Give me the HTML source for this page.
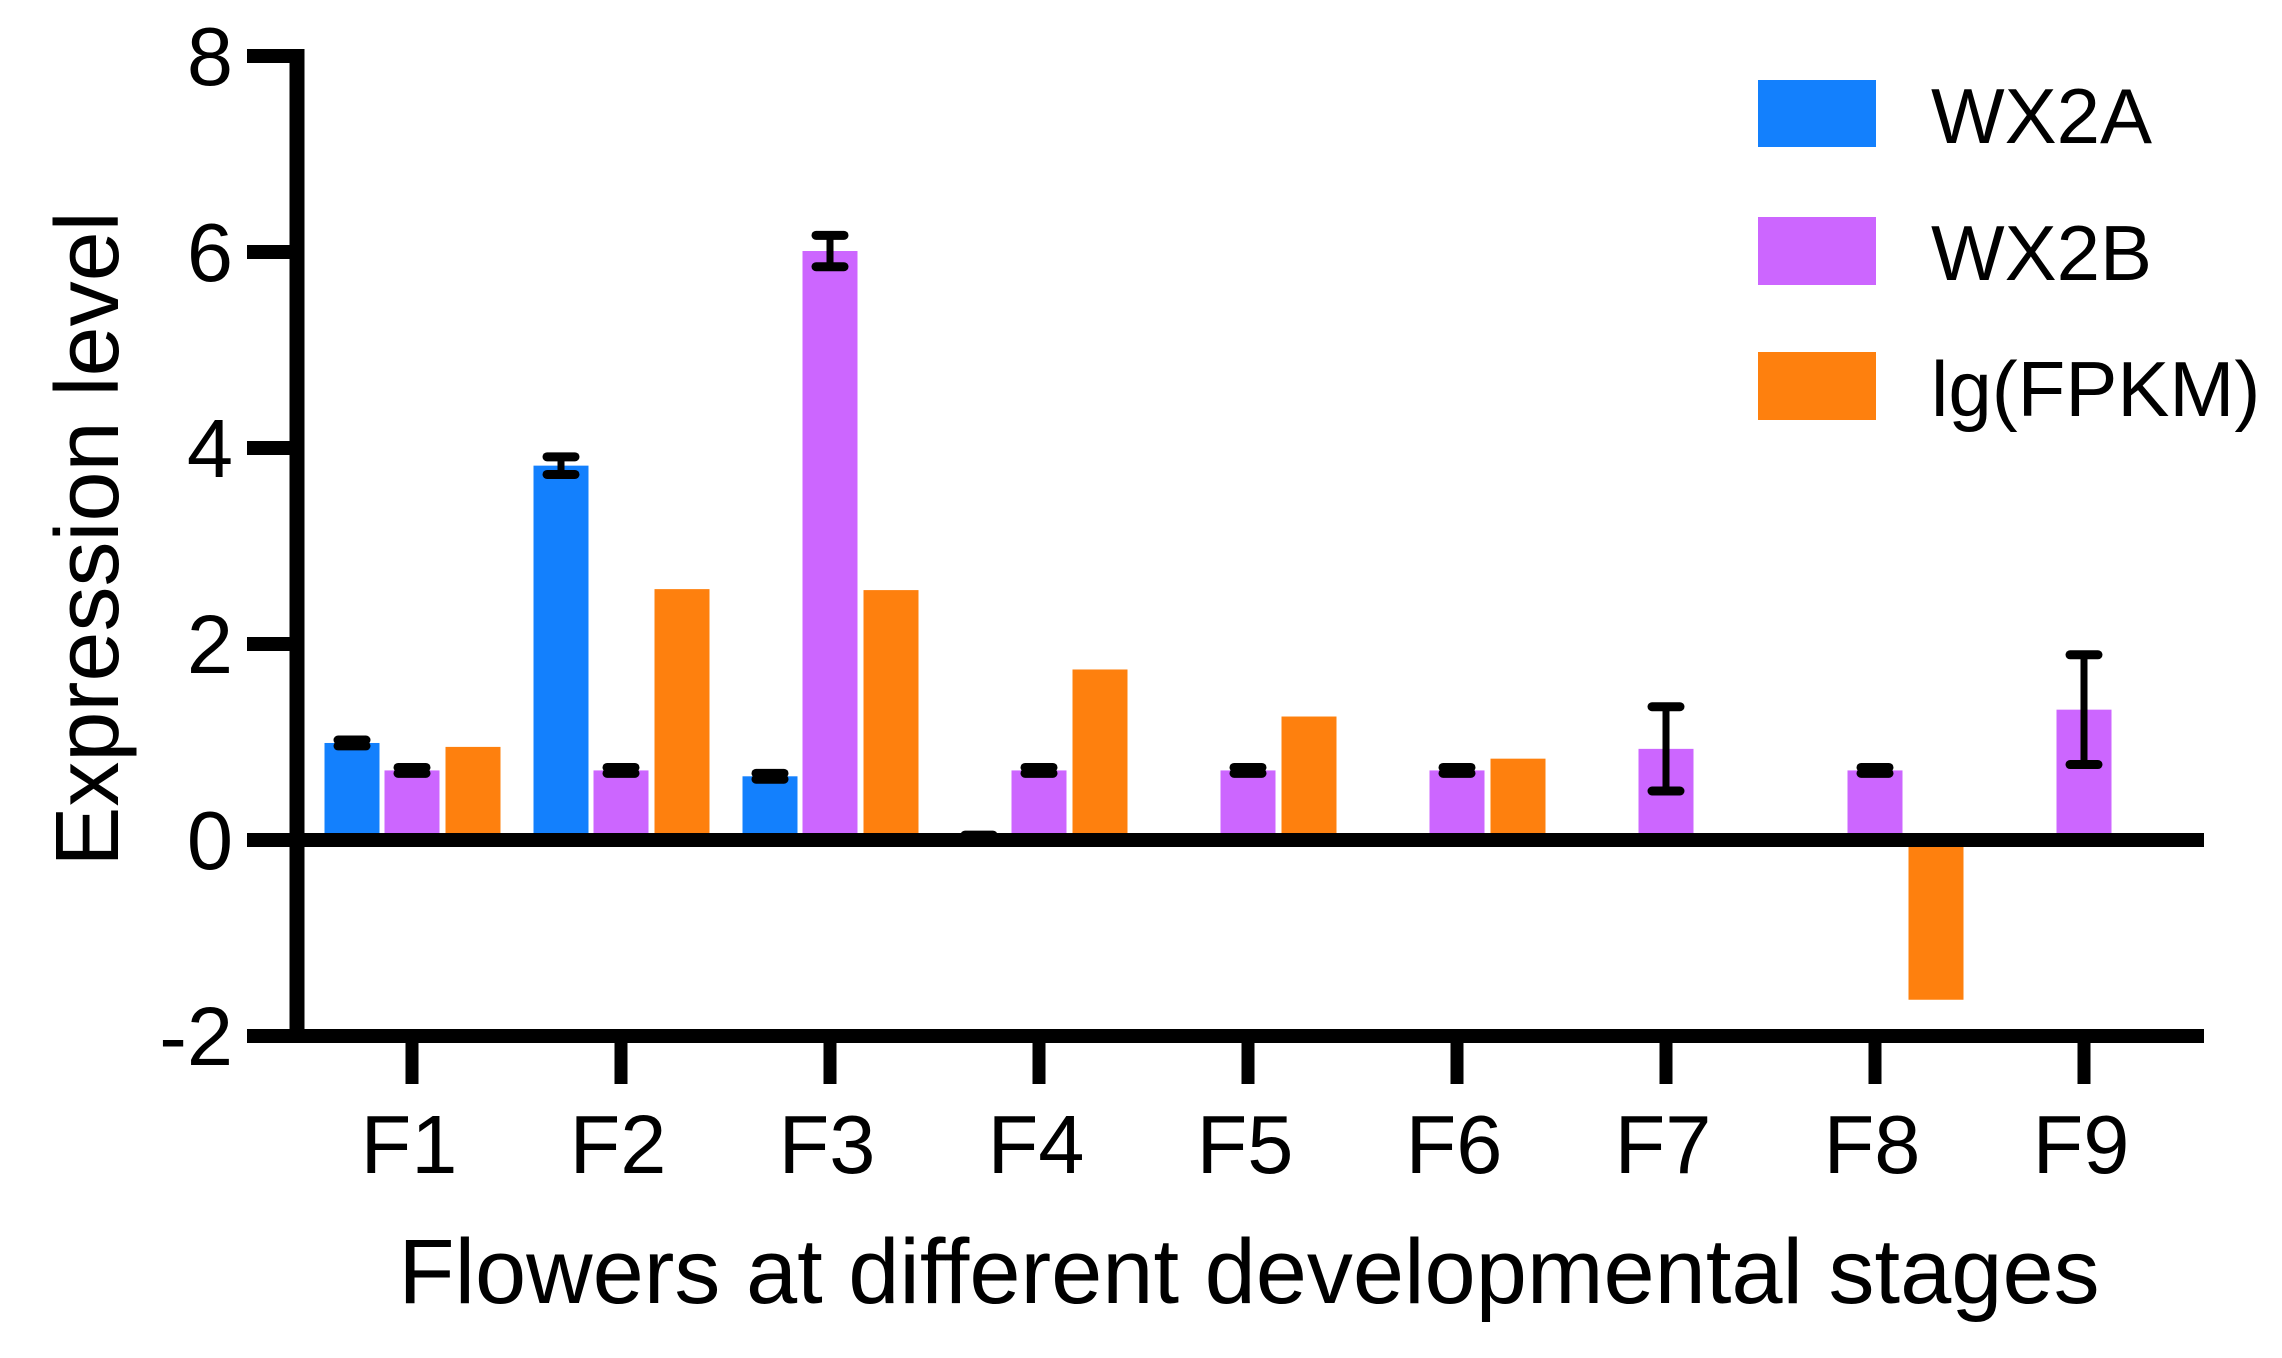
<!DOCTYPE html>
<html><head><meta charset="utf-8"><style>
html,body{margin:0;padding:0;background:#fff;}
svg{display:block;font-family:"Liberation Sans",Arial,sans-serif;}
</style></head><body>
<svg id="chart" width="2282" height="1358" viewBox="0 0 2282 1358" xmlns="http://www.w3.org/2000/svg">
<g id="bars"></g>
<g id="axes"></g>
<text transform="translate(118,539) rotate(-90)" text-anchor="middle" font-size="90">Expression level</text>
<text x="1249" y="1303" text-anchor="middle" font-size="92">Flowers at different developmental stages</text>
<g>
<rect x="1758" y="80" width="118" height="67" fill="#1380fd"/>
<text x="1931" y="143" font-size="78">WX2A</text>
<rect x="1758" y="217" width="118" height="68" fill="#cc66ff"/>
<text x="1931" y="280" font-size="78">WX2B</text>
<rect x="1758" y="352" width="118" height="68" fill="#fe800e"/>
<text x="1931" y="416" font-size="78">lg(FPKM)</text>
</g>
</svg>
<script>
const categories = ["F1","F2","F3","F4","F5","F6","F7","F8","F9"];
const wx2a = [0.99, 3.82, 0.65, 0.04, null, null, null, null, null];
const wx2aErr = [0.03, 0.09, 0.03, 0.01, null, null, null, null, null];
const wx2b = [0.71, 0.71, 6.01, 0.71, 0.71, 0.71, 0.93, 0.71, 1.33];
const wx2bErr = [0.03, 0.03, 0.16, 0.03, 0.03, 0.03, 0.43, 0.03, 0.56];
const lgfpkm = [0.95, 2.56, 2.55, 1.74, 1.26, 0.83, null, -1.63, null];
const yTicks = [-2, 0, 2, 4, 6, 8];

const NS = "http://www.w3.org/2000/svg";
const y0 = 840, unit = 98;
function yScale(v){ return y0 - v*unit; }
function xScale(i){ return 412 + i*209; }
function mk(tag, attrs, parent){
  const e = document.createElementNS(NS, tag);
  for (const k in attrs) e.setAttribute(k, attrs[k]);
  parent.appendChild(e); return e;
}
const bars = document.getElementById('bars');
const axes = document.getElementById('axes');
const series = [
  {vals: wx2a, err: wx2aErr, color: "#1380fd", off: -60, name: "wx2a"},
  {vals: wx2b, err: wx2bErr, color: "#cc66ff", off: 0, name: "wx2b"},
  {vals: lgfpkm, err: null, color: "#fe800e", off: 61, name: "lgfpkm"}
];
const bw = 55;
series.forEach(s => {
  s.vals.forEach((v, i) => {
    if (v === null) return;
    const cx = xScale(i) + s.off;
    const top = Math.min(yScale(v), y0), bot = Math.max(yScale(v), y0);
    const r = mk('rect', {x: cx - bw/2, y: top, width: bw, height: bot - top, fill: s.color}, bars);
    
    
    if (s.err && s.err[i] !== null && s.err[i] > 0) {
      const e = s.err[i];
      const g = mk('g', {stroke: '#000', 'stroke-width': 9, 'stroke-linecap': 'round', fill: 'none'}, bars);
      
      
      const yt = yScale(v + e), yb = yScale(v - e);
      if (e > 0.06) mk('line', {x1: cx, x2: cx, y1: yt, y2: yb, 'stroke-width': 7}, g);
      mk('line', {x1: cx - 14, x2: cx + 14, y1: yt, y2: yt}, g);
      mk('line', {x1: cx - 14, x2: cx + 14, y1: yb, y2: yb}, g);
    }
  });
});
const ya = mk('line', {x1: 297, x2: 297, y1: yScale(8) - 7, y2: yScale(-2) + 7, stroke: '#000', 'stroke-width': 15}, axes);


yTicks.forEach(t => {
  const l = mk('line', {x1: 247, x2: 297, y1: yScale(t), y2: yScale(t), stroke: '#000', 'stroke-width': 14}, axes);
  
  
  const tx = mk('text', {x: 233, y: yScale(t) + 29, 'text-anchor': 'end', 'font-size': 83}, axes);
  tx.textContent = String(t);
  
  
});
const zl = mk('line', {x1: 290, x2: 2204, y1: yScale(0), y2: yScale(0), stroke: '#000', 'stroke-width': 14}, axes);


const xa = mk('line', {x1: 290, x2: 2204, y1: yScale(-2), y2: yScale(-2), stroke: '#000', 'stroke-width': 14}, axes);


categories.forEach((c, i) => {
  const l = mk('line', {x1: xScale(i), x2: xScale(i), y1: yScale(-2), y2: 1084, stroke: '#000', 'stroke-width': 13}, axes);
  
  
  const tx = mk('text', {x: xScale(i) - 3, y: 1173, 'text-anchor': 'middle', 'font-size': 83}, axes);
  tx.textContent = c;
  
  
});
</script>
</body></html>
